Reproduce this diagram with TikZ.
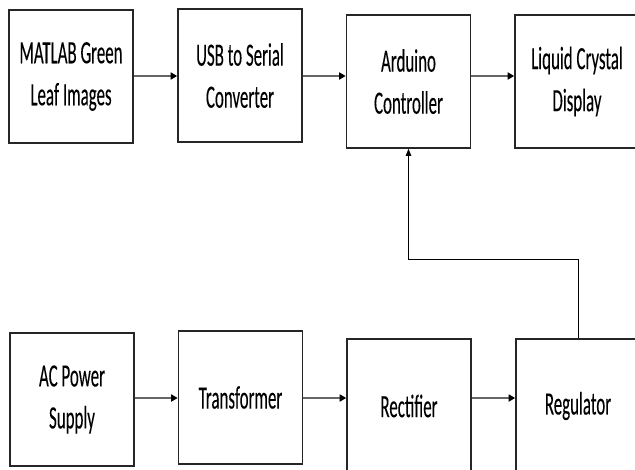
\documentclass[tikz,border=0pt]{standalone}
\usepackage{fontspec}
\setmainfont[FakeStretch=0.52,FakeBold=0.15]{Carlito}
\usetikzlibrary{arrows.meta}
\begin{document}
\begin{tikzpicture}[x=1pt,y=-1pt,
  blk/.style={draw=black!85,line width=1.6pt,minimum width=124pt,minimum height=133pt,
    align=center,inner sep=0pt,font=\fontsize{32.5}{42}\selectfont},
  conn/.style={draw=black!60,line width=2.2pt,-{Triangle[length=6.5pt,width=7pt,color=black,fill=black]}},
  fb/.style={draw=black,line width=1pt,-{Triangle[length=7pt,width=5.5pt,fill=black]}}]
\useasboundingbox (0,0) rectangle (635,469);
\clip (0,0) rectangle (635,469);
% top row
\node[blk] (m) at (71,76.5) {MATLAB Green\\Leaf Images};
\node[blk] (u) at (240,75.5) {USB to Serial\\Converter};
\node[blk] (a) at (408.5,81.5) {Arduino\\Controller};
\node[blk] (l) at (577,81.5) {Liquid Crystal\\Display};
% bottom row
\node[blk] (ac) at (72,399.5) {AC Power\\Supply};
\node[blk] (t) at (240.5,397.5) {Transformer};
\node[blk,minimum height=134pt] (r) at (409,406) {Rectifier};
\node[blk,minimum height=134pt] (g) at (578,406) {Regulator};
% connectors
\draw[conn] ([yshift=0.5pt]m.east) -- ([yshift=0.5pt]m.east -| u.west);
\draw[conn] ([yshift=-0.5pt]u.east) -- ([yshift=-0.5pt]u.east -| a.west);
\draw[conn] ([yshift=5.5pt]a.east) -- ([yshift=5.5pt]a.east -| l.west);
\draw[conn] ([yshift=1.5pt]ac.east) -- ([yshift=1.5pt]ac.east -| t.west);
\draw[conn] ([yshift=-0.5pt]t.east) -- ([yshift=-0.5pt]t.east -| r.west);
\draw[conn] ([yshift=8pt]r.east) -- ([yshift=8pt]r.east -| g.west);
\coordinate (k) at (0,259);
\draw[fb] (g.north) |- (a.south |- k) -- (a.south);
\end{tikzpicture}
\end{document}
